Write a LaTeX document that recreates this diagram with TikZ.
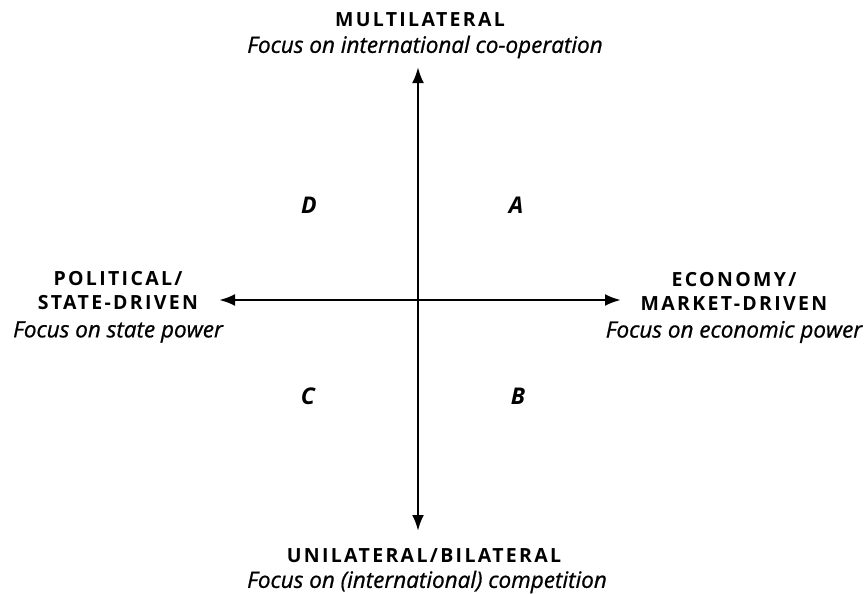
\documentclass[tikz,border=0pt]{standalone}
\usepackage{fontspec}
\setmainfont{Open Sans}
\usetikzlibrary{arrows.meta}
\begin{document}
\begin{tikzpicture}[x=1pt,y=-1pt,
  axis/.style={line width=2.6pt,{Latex[length=16pt,width=12pt]}-{Latex[length=16pt,width=12pt]}},
  headlbl/.style={font=\fontsize{19.5}{24}\selectfont\bfseries\addfontfeature{LetterSpace=12}, align=center, inner sep=0pt},
  sublbl/.style={font=\fontsize{22.5}{26}\selectfont\itshape\addfontfeature{FakeBold=0.8}, inner sep=0pt},
  quad/.style={font=\fontsize{23}{26}\selectfont\bfseries\itshape, inner sep=0pt}]
\useasboundingbox (0,0) rectangle (867,594);
\fill[white] (0,0) rectangle (867,594);
% axis end points
\coordinate (top) at (418,67);
\coordinate (bot) at (418,531);
\coordinate (lft) at (219,300);
\coordinate (rgt) at (621,300);
\draw[axis] (bot) -- (top);
\draw[axis] (lft) -- (rgt);
% top label
\node[headlbl] (multi) at (420,20) {MULTILATERAL};
\node[sublbl] (multisub) at (425,47) {Focus on international co-operation};
% bottom label
\node[headlbl] (uni) at (424,556) {UNILATERAL/BILATERAL};
\node[sublbl] (unisub) at (427,582) {Focus on (international) competition};
% left label
\node[headlbl] (pol) at (118,291) {POLITICAL/\\STATE-DRIVEN};
\node[sublbl] (polsub) at (118,332) {Focus on state power};
% right label
\node[headlbl] (eco) at (734,291) {ECONOMY/\\MARKET-DRIVEN};
\node[sublbl] (ecosub) at (734,332) {Focus on economic power};
% quadrants
\node[quad] (qd) at (309,205) {D};
\node[quad] (qa) at (516,205) {A};
\node[quad] (qc) at (308,396) {C};
\node[quad] (qb) at (518,396) {B};
\end{tikzpicture}
\end{document}
